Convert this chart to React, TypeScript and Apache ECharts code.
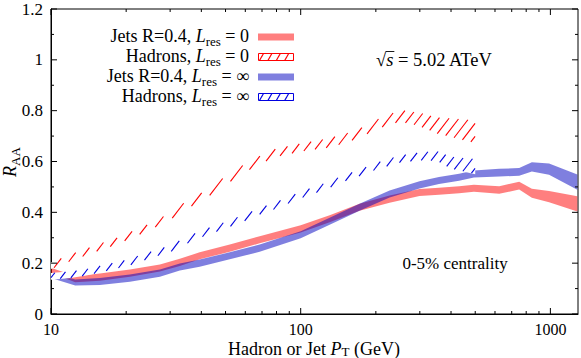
import React, { useEffect, useRef } from 'react';
import * as echarts from 'echarts';

const FONT = 'Liberation Serif';

// axis extents and ticks
const xMin = 10;
const xMax = 1290;
const xLabelTicks = [10, 100, 1000];
const xMinorTicks = [20, 30, 40, 50, 60, 70, 80, 90, 200, 300, 400, 500, 600, 700, 800, 900];
const yMajorTicks = [0, 0.2, 0.4, 0.6, 0.8, 1, 1.2];
const yMinorTicks = [0.1, 0.3, 0.5, 0.7, 0.9, 1.1];

// Jets R=0.4 (solid bands)
const jetPt = [10, 12.5, 15.7, 20.7, 27.3, 32.8, 39.4, 52, 68.5, 100, 130.6, 172, 227, 299, 358, 431, 494, 624, 750, 843, 988, 1282];
const jetsL0 = [0.172, 0.137, 0.145, 0.161, 0.181, 0.203, 0.229, 0.259, 0.292, 0.335, 0.375, 0.42, 0.452, 0.478, 0.483, 0.489, 0.495, 0.488, 0.505, 0.475, 0.462, 0.433];
const jetsLinf = [0.152, 0.124, 0.128, 0.141, 0.161, 0.185, 0.2, 0.229, 0.259, 0.312, 0.365, 0.42, 0.472, 0.508, 0.525, 0.538, 0.551, 0.556, 0.559, 0.579, 0.57, 0.519];
const jetHalf = [0.01, 0.012, 0.014, 0.014, 0.014, 0.014, 0.014, 0.014, 0.014, 0.014, 0.014, 0.014, 0.014, 0.014, 0.014, 0.014, 0.014, 0.015, 0.015, 0.018, 0.022, 0.03];

// Hadrons (hatched bands)
const hadPt = [10, 12, 14, 16, 18, 20, 25, 30, 35, 40, 50, 60, 70, 80, 100, 125, 150, 175, 200, 250, 300, 350, 400, 500];
const hadL0 = [0.19, 0.222, 0.245, 0.267, 0.283, 0.303, 0.344, 0.385, 0.43, 0.46, 0.525, 0.575, 0.61, 0.635, 0.655, 0.67, 0.69, 0.715, 0.745, 0.78, 0.765, 0.742, 0.733, 0.718];
const hadHalfL0 = [0.013, 0.013, 0.013, 0.013, 0.013, 0.013, 0.013, 0.013, 0.015, 0.016, 0.016, 0.016, 0.016, 0.016, 0.016, 0.018, 0.018, 0.018, 0.018, 0.023, 0.027, 0.032, 0.037, 0.045];
const hadLinf = [0.148, 0.155, 0.165, 0.178, 0.19, 0.2, 0.232, 0.257, 0.29, 0.315, 0.35, 0.38, 0.408, 0.428, 0.468, 0.502, 0.535, 0.558, 0.581, 0.61, 0.62, 0.622, 0.595, 0.58];
const hadHalfLinf = [0.013, 0.013, 0.013, 0.013, 0.013, 0.013, 0.013, 0.013, 0.013, 0.013, 0.013, 0.013, 0.013, 0.013, 0.013, 0.013, 0.013, 0.013, 0.013, 0.014, 0.016, 0.02, 0.024, 0.03];

const legendLabels = [
  'Jets R=0.4, {i|L}{s|res} = 0',
  'Hadrons, {i|L}{s|res} = 0',
  'Jets R=0.4, {i|L}{s|res} = ∞',
  'Hadrons, {i|L}{s|res} = ∞',
];

const RED_FILL = 'rgba(255,0,0,0.5)';
const BLUE_FILL = 'rgba(0,0,192,0.5)';
const RED_LINE = '#ff0000';
const BLUE_LINE = '#0000e0';

function bandItem(pts: number[], mid: number[], half: number[], fill: string) {
  return (_p: any, api: any) => {
    const up = pts.map((p, i) => api.coord([p, mid[i] + half[i]]));
    const lo = pts.map((p, i) => api.coord([p, mid[i] - half[i]])).reverse();
    return { type: 'polygon', shape: { points: up.concat(lo) }, style: { fill, stroke: null } };
  };
}

function interp(E: number[][], x: number) {
  for (let k = 0; k < E.length - 1; k++) {
    if (x <= E[k + 1][0]) {
      const t = (x - E[k][0]) / (E[k + 1][0] - E[k][0]);
      return E[k][1] + t * (E[k + 1][1] - E[k][1]);
    }
  }
  return E[E.length - 1][1];
}

function hatchItem(pts: number[], mid: number[], half: number[], color: string, m: number, dc: number, phase: number) {
  return (_p: any, api: any) => {
    const U = pts.map((p, i) => api.coord([p, mid[i] + half[i]]));
    const L = pts.map((p, i) => api.coord([p, mid[i] - half[i]]));
    const x0 = U[0][0];
    const x1 = U[U.length - 1][0];
    let ymin = Infinity;
    let ymax = -Infinity;
    U.concat(L).forEach((q: number[]) => { ymin = Math.min(ymin, q[1]); ymax = Math.max(ymax, q[1]); });
    const children: any[] = [
      { type: 'polygon', shape: { points: U.concat(L.slice().reverse()) }, style: { fill: '#ffffff', stroke: null } },
    ];
    const cmin = ymin + m * x0;
    const cmax = ymax + m * x1;
    const k0 = Math.ceil((cmin - phase) / dc);
    const k1 = Math.floor((cmax - phase) / dc);
    const push = (s: number, e: number, c: number) => {
      if (e - s < 0.3) return;
      children.push({
        type: 'line',
        shape: { x1: s, y1: c - m * s, x2: e, y2: c - m * e },
        style: { stroke: color, lineWidth: 1.1 },
      });
    };
    for (let k = k0; k <= k1; k++) {
      const c = phase + k * dc;
      const xa = Math.max(x0, (c - ymax) / m);
      const xb = Math.min(x1, (c - ymin) / m);
      let start: number | null = null;
      let prev = xa;
      for (let x = xa; x <= xb; x += 0.2) {
        const y = c - m * x;
        const inside = y >= interp(U, x) && y <= interp(L, x);
        if (inside && start === null) start = x;
        if (!inside && start !== null) { push(start, prev, c); start = null; }
        prev = x;
      }
      if (start !== null) push(start, prev, c);
    }
    return { type: 'group', children };
  };
}

function tickItem(_p: any, api: any) {
  const children: any[] = [];
  const ln = (a: number[], b: number[]) => children.push({
    type: 'line', shape: { x1: a[0], y1: a[1], x2: b[0], y2: b[1] }, style: { stroke: '#000', lineWidth: 1 },
  });
  const xt = (v: number, len: number) => {
    const b = api.coord([v, 0]);
    const t = api.coord([v, 1.2]);
    ln(b, [b[0], b[1] - len]);
    ln(t, [t[0], t[1] + len]);
  };
  const yt = (v: number, len: number) => {
    const l = api.coord([xMin, v]);
    const r = api.coord([xMax, v]);
    ln(l, [l[0] + len, l[1]]);
    ln(r, [r[0] - len, r[1]]);
  };
  xLabelTicks.forEach((v) => xt(v, 6));
  xMinorTicks.forEach((v) => xt(v, 3));
  yMajorTicks.forEach((v) => yt(v, 6));
  yMinorTicks.forEach((v) => yt(v, 3));
  return { type: 'group', children };
}

function measure(text: string, font: string) {
  const ctx = document.createElement('canvas').getContext('2d');
  if (!ctx) return text.length * 8;
  ctx.font = font;
  return ctx.measureText(text).width;
}

function richStyles(size: number, subSize: number, lh: number) {
  return {
    i: { fontStyle: 'italic', fontFamily: FONT, fontSize: size, lineHeight: lh, fill: '#000' },
    s: { fontFamily: FONT, fontSize: subSize, lineHeight: subSize, verticalAlign: 'bottom', fill: '#000' },
  };
}

function textEl(x: number, y: number, text: string, size: number, align: string, extra: any = {}, lh = size + 5) {
  return {
    type: 'text',
    x,
    y,
    ...extra,
    style: {
      text,
      fontFamily: FONT,
      fontSize: size,
      lineHeight: lh,
      fill: '#000',
      align,
      verticalAlign: 'middle',
      textAlign: align,
      textVerticalAlign: 'middle',
      rich: richStyles(size, Math.round(size * 0.72), lh),
    },
  };
}

function buildGraphic() {
  const g: any[] = [];
  const rowY = [37, 57, 77, 97];
  const colors = [RED_FILL, RED_LINE, BLUE_FILL, BLUE_LINE];
  legendLabels.forEach((lab, r) => {
    const yc = rowY[r];
    g.push(textEl(249, yc - 1, lab, 18, 'right'));
    if (r % 2 === 0) {
      g.push({ type: 'rect', shape: { x: 258, y: yc - 3.5, width: 36, height: 7 }, style: { fill: colors[r] } });
    } else {
      g.push({ type: 'rect', shape: { x: 258.5, y: yc - 3.5, width: 35, height: 7 }, style: { fill: '#fff', stroke: colors[r], lineWidth: 1 } });
      for (let i = 0; i < 5; i++) {
        const xs = 259.5 + i * 8.4;
        const xe = Math.min(xs + 4, 293.5);
        const ye = yc + 3.5 - ((xe - xs) / 4) * 7;
        if (xs < 293.5) {
          g.push({ type: 'line', shape: { x1: xs, y1: yc + 3.5, x2: xe, y2: ye }, style: { stroke: colors[r], lineWidth: 1.2 } });
        }
      }
    }
  });
  // sqrt(s) annotation
  const ax = 376;
  const ay = 60;
  const fs = 18.5;
  const wRad = measure('√', `${fs}px "Liberation Serif"`);
  const wS = measure('s', `italic ${fs}px "Liberation Serif"`);
  g.push({
    type: 'text', x: ax, y: ay,
    style: {
      text: '√{i|s} = 5.02 ATeV', fontFamily: FONT, fontSize: fs, fill: '#000',
      align: 'left', verticalAlign: 'middle', textAlign: 'left', textVerticalAlign: 'middle',
      rich: { i: { fontStyle: 'italic', fontFamily: FONT, fontSize: fs, fill: '#000' } },
    },
  });
  g.push({ type: 'line', shape: { x1: ax + wRad - 0.5, y1: ay - 8.5, x2: ax + wRad + wS + 1, y2: ay - 8.5 }, style: { stroke: '#000', lineWidth: 0.9 } });
  g.push(textEl(455, 263, '0-5% centrality', 17, 'center'));
  g.push(textEl(314, 348.5, 'Hadron or Jet {i|P}{s|T} (GeV)', 18, 'center', {}, 18));
  g.push(textEl(10, 162, '{i|R}{s|AA}', 18, 'center', { rotation: Math.PI / 2 }));
  return g;
}

export default function App() {
  const ref = useRef<HTMLDivElement>(null);
  useEffect(() => {
    if (!ref.current) return;
    const chart = echarts.init(ref.current, undefined, { renderer: 'svg' });
    const custom = (renderItem: any, z: number) => ({
      type: 'custom', coordinateSystem: 'cartesian2d', renderItem, data: [[10, 0.5]], silent: true, clip: false, z,
    });
    const option: any = {
      animation: false,
      grid: { left: 51, right: 3, top: 9, bottom: 44, show: true, borderColor: '#000', borderWidth: 1, backgroundColor: 'transparent' },
      xAxis: {
        type: 'log', logBase: 10, min: xMin, max: xMax,
        axisLine: { show: true, lineStyle: { color: '#000', width: 1 } },
        axisTick: { show: false }, splitLine: { show: false }, minorTick: { show: false },
        axisLabel: {
          color: '#000', fontFamily: FONT, fontSize: 16, lineHeight: 16, margin: 7, showMaxLabel: false,
          formatter: (v: number) => (xLabelTicks.includes(Math.round(v)) ? String(Math.round(v)) : ''),
        },
      },
      yAxis: {
        type: 'value', min: 0, max: 1.2, interval: 0.2,
        axisLine: { show: true, lineStyle: { color: '#000', width: 1 } },
        axisTick: { show: false }, splitLine: { show: false },
        axisLabel: { color: '#000', fontFamily: FONT, fontSize: 17, margin: 8, formatter: (v: number) => String(+v.toFixed(1)) },
      },
      series: [
        custom(bandItem(jetPt, jetsL0, jetHalf, RED_FILL), 2),
        custom(hatchItem(hadPt, hadL0, hadHalfL0, RED_LINE, 1.3, 13, 0), 2),
        custom(bandItem(jetPt, jetsLinf, jetHalf, BLUE_FILL), 2),
        custom(hatchItem(hadPt, hadLinf, hadHalfLinf, BLUE_LINE, 1.3, 13, 6), 2),
        custom(tickItem, 5),
      ],
      graphic: buildGraphic(),
    };
    chart.setOption(option);
    return () => chart.dispose();
  }, []);
  return <div ref={ref} style={{ position: 'absolute', left: 0, top: 0, width: 581, height: 358 }} />;
}
